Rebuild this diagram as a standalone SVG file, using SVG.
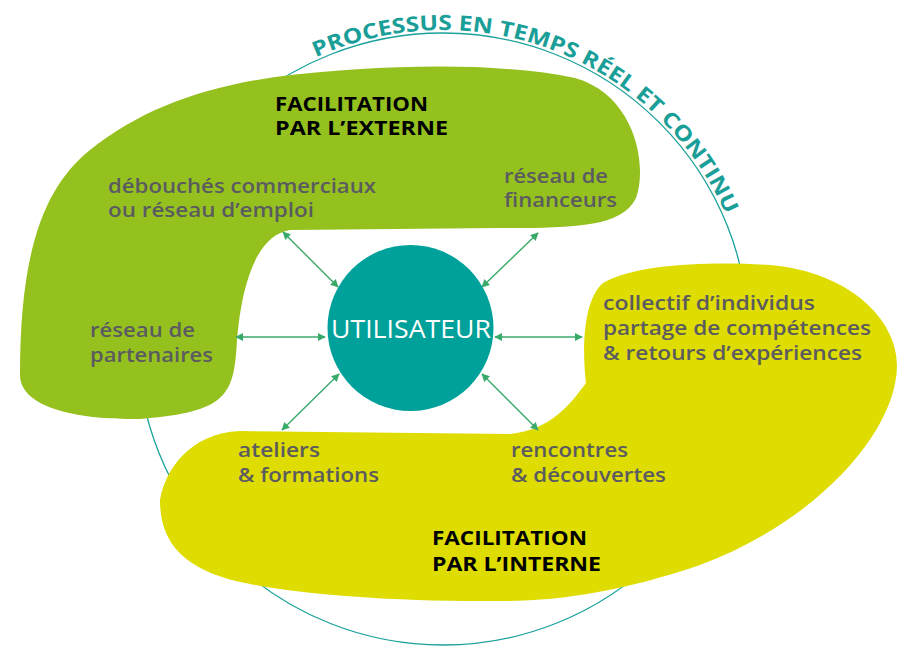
<svg xmlns="http://www.w3.org/2000/svg" width="897" height="646" viewBox="0 0 897 646">
<defs>
<style>
.lbl{font-family:"Open Sans","Liberation Sans",sans-serif;font-size:20px;font-weight:600;fill:#5b5b60}
.ttl{font-family:"Open Sans","Liberation Sans",sans-serif;font-size:20px;font-weight:700;fill:#000}
.con{stroke:#3aaa6b;stroke-width:1.4;fill:none;marker-start:url(#ah);marker-end:url(#ah)}
</style>
<marker id="ah" viewBox="0 0 10 10" refX="9" refY="5" markerWidth="8" markerHeight="8" orient="auto-start-reverse" markerUnits="userSpaceOnUse">
<path d="M0,0 L10,5 L0,10 Z" fill="#3aaa6b"/>
</marker>
<path id="arc" d="M315.8,57.4 A309,309 0 0 1 727.4,218.3"/>
</defs>
<rect width="897" height="646" fill="#fff"/>
<circle cx="443" cy="339" r="306" fill="none" stroke="#1aa19b" stroke-width="1.3"/>
<text font-family="'Open Sans','Liberation Sans',sans-serif" font-size="21" font-weight="700" fill="#1a9e98"><textPath href="#arc" textLength="488" lengthAdjust="spacingAndGlyphs">PROCESSUS EN TEMPS RÉEL ET CONTINU</textPath></text>
<g id="externe">
<path d="M20,375 C20,260 40,190 90,150 C140,110 200,88 275,77 C380,64 500,62 575,78 C635,95 648,165 636,198 C622,228 570,228 500,228 L290,230 C258,235 242,280 237,340 C234,395 228,412 140,419 C70,420 20,405 20,375 Z" fill="#95c11f"/>
<text class="ttl" x="275" y="111" textLength="153" lengthAdjust="spacingAndGlyphs">FACILITATION</text>
<text class="ttl" x="275" y="135" textLength="173" lengthAdjust="spacingAndGlyphs">PAR L’EXTERNE</text>
</g>
<g id="interne">
<path d="M603,283 C640,262 720,262 770,265 C850,272 897,320 897,365 C897,430 820,520 700,565 C620,592 560,601 500,601 C400,602 300,595 240,582 C180,568 160,540 160,500 C165,470 190,433 240,431 L510,434 C550,430 570,405 586,383 C582,350 583,300 603,283 Z" fill="#dedc00"/>
<text class="ttl" x="432" y="545" textLength="155" lengthAdjust="spacingAndGlyphs">FACILITATION</text>
<text class="ttl" x="432" y="571" textLength="169" lengthAdjust="spacingAndGlyphs">PAR L’INTERNE</text>
</g>
<g id="debouches"><text class="lbl" x="108" y="193" textLength="268" lengthAdjust="spacingAndGlyphs">débouchés commerciaux</text><text class="lbl" x="108" y="217" textLength="206" lengthAdjust="spacingAndGlyphs">ou réseau d’emploi</text></g>
<g id="financeurs"><text class="lbl" x="504" y="183" textLength="104" lengthAdjust="spacingAndGlyphs">réseau de</text><text class="lbl" x="504" y="207" textLength="113" lengthAdjust="spacingAndGlyphs">financeurs</text></g>
<g id="partenaires"><text class="lbl" x="90" y="337" textLength="105" lengthAdjust="spacingAndGlyphs">réseau de</text><text class="lbl" x="90" y="362" textLength="123" lengthAdjust="spacingAndGlyphs">partenaires</text></g>
<g id="collectif"><text class="lbl" x="603" y="310" textLength="212" lengthAdjust="spacingAndGlyphs">collectif d’individus</text><text class="lbl" x="603" y="335" textLength="268" lengthAdjust="spacingAndGlyphs">partage de compétences</text><text class="lbl" x="603" y="360" textLength="259" lengthAdjust="spacingAndGlyphs">&amp; retours d’expériences</text></g>
<g id="ateliers"><text class="lbl" x="238" y="457" textLength="82" lengthAdjust="spacingAndGlyphs">ateliers</text><text class="lbl" x="238" y="482" textLength="141" lengthAdjust="spacingAndGlyphs">&amp; formations</text></g>
<g id="rencontres"><text class="lbl" x="511" y="457" textLength="117" lengthAdjust="spacingAndGlyphs">rencontres</text><text class="lbl" x="511" y="482" textLength="155" lengthAdjust="spacingAndGlyphs">&amp; découvertes</text></g>
<g id="connectors">
<line class="con" x1="283" y1="232" x2="338" y2="287"/>
<line class="con" x1="538" y1="233" x2="482" y2="287"/>
<line class="con" x1="236" y1="337" x2="325" y2="337"/>
<line class="con" x1="495" y1="337" x2="582" y2="337"/>
<line class="con" x1="339" y1="374" x2="282" y2="430"/>
<line class="con" x1="482" y1="374" x2="538" y2="430"/>
</g>
<g id="utilisateur">
<circle cx="410.5" cy="328" r="83" fill="#00a19a"/>
<text x="411" y="338" text-anchor="middle" font-family="'Open Sans','Liberation Sans',sans-serif" font-size="25" font-weight="500" fill="#fff" textLength="160" lengthAdjust="spacingAndGlyphs">UTILISATEUR</text>
</g>
</svg>
